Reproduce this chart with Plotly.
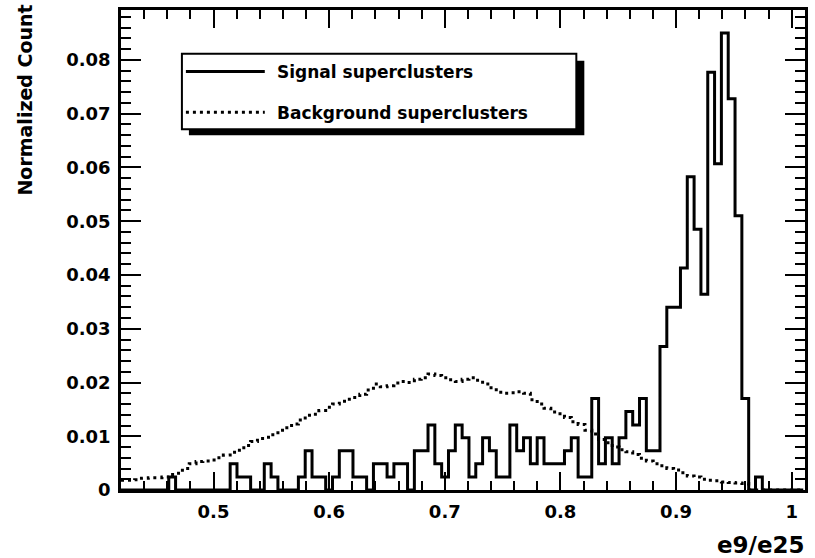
import numpy as np
import plotly.graph_objects as go

# Histogram binning (100 bins on e9/e25)
BIN_LO, BIN_HI, N_BINS = 0.42, 1.01, 100

# Normalized counts per bin, signal superclusters
signal = [
    0, 0, 0, 0, 0, 0, 0, 0.0024, 0, 0,
    0, 0, 0, 0, 0, 0, 0.0049, 0.0024, 0.0024, 0,
    0, 0.0049, 0.0024, 0, 0, 0, 0.0024, 0.0073, 0.0024, 0.0024,
    0, 0.0024, 0.0073, 0.0073, 0.0024, 0.0024, 0, 0.0049, 0.0049, 0.0024,
    0.0049, 0.0049, 0, 0.0073, 0.0073, 0.0121, 0.0049, 0.0024, 0.0073, 0.0121,
    0.0097, 0.0024, 0.0049, 0.0097, 0.0073, 0.0024, 0.0024, 0.0121, 0.0073, 0.0097,
    0.0049, 0.0097, 0.0049, 0.0049, 0.0049, 0.0073, 0.0097, 0.0024, 0.0024, 0.0170,
    0.0049, 0.0097, 0.0049, 0.0097, 0.0146, 0.0121, 0.0170, 0.0073, 0.0073, 0.0267,
    0.0340, 0.0340, 0.0413, 0.0583, 0.0485, 0.0364, 0.0777, 0.0607, 0.0850, 0.0728,
    0.0510, 0.0170, 0, 0.0024, 0, 0, 0, 0, 0, 0,
]

# Normalized counts per bin, background superclusters
background = [
    0.0018, 0.0018, 0.0019, 0.0022, 0.0023, 0.0023, 0.0024, 0.0029, 0.0031, 0.0040,
    0.0049, 0.0053, 0.0054, 0.0056, 0.0060, 0.0065, 0.0070, 0.0074, 0.0083, 0.0090,
    0.0096, 0.0098, 0.0103, 0.0111, 0.0116, 0.0123, 0.0130, 0.0139, 0.0141, 0.0148,
    0.0154, 0.0160, 0.0165, 0.0169, 0.0172, 0.0178, 0.0186, 0.0197, 0.0192, 0.0194,
    0.0199, 0.0202, 0.0200, 0.0206, 0.0209, 0.0216, 0.0213, 0.0209, 0.0205, 0.0202,
    0.0206, 0.0209, 0.0204, 0.0197, 0.0190, 0.0182, 0.0180, 0.0181, 0.0183, 0.0180,
    0.0168, 0.0160, 0.0152, 0.0145, 0.0142, 0.0135, 0.0127, 0.0122, 0.0111, 0.0104,
    0.0094, 0.0088, 0.0080, 0.0075, 0.0071, 0.0066, 0.0059, 0.0054, 0.0049, 0.0045,
    0.0040, 0.0037, 0.0032, 0.0026, 0.0024, 0.0020, 0.0018, 0.0017, 0.0015, 0.0014,
    0.0013, 0.0012, 0, 0, 0, 0, 0, 0, 0, 0,
]

SERIES_NAMES = ["Signal superclusters", "Background superclusters"]
X_TITLE = "e9/e25"
Y_TITLE = "Normalized Count"

edges = np.linspace(BIN_LO, BIN_HI, N_BINS + 1)


def step_xy(values):
    # left bin edges plus the final right edge, for an hv step outline
    return list(edges), list(values) + [values[-1]]


FONT = "DejaVu Sans"
fig = go.Figure()

sx, sy = step_xy(signal)
bx, by = step_xy(background)
fig.add_trace(go.Scatter(x=bx, y=by, mode="lines", line_shape="hv",
                         line=dict(color="black", width=3, dash="3px,4px"),
                         name=SERIES_NAMES[1], showlegend=False))
fig.add_trace(go.Scatter(x=sx, y=sy, mode="lines", line_shape="hv",
                         line=dict(color="black", width=3),
                         name=SERIES_NAMES[0], showlegend=False))

L, R, T, B = 121, 9, 7, 68
W, H = 815, 558
PW, PH = W - L - R, H - T - B


def px(x):
    return (x - L) / PW


def py(y):
    return (H - B - y) / PH


shapes = [
    # legend shadow and box
    dict(type="rect", xref="paper", yref="paper",
         x0=px(189), x1=px(585), y0=py(133), y1=py(58),
         fillcolor="black", line=dict(width=0), layer="above"),
    dict(type="rect", xref="paper", yref="paper",
         x0=px(182), x1=px(577), y0=py(127), y1=py(51),
         fillcolor="white", line=dict(color="black", width=2), layer="above"),
    # legend samples
    dict(type="line", xref="paper", yref="paper",
         x0=px(186), x1=px(265), y0=py(69), y1=py(69),
         line=dict(color="black", width=3), layer="above"),
    dict(type="line", xref="paper", yref="paper",
         x0=px(186), x1=px(265), y0=py(110), y1=py(110),
         line=dict(color="black", width=3, dash="3px,4px"), layer="above"),
]

annotations = [
    dict(text=SERIES_NAMES[0], xref="paper", yref="paper", x=px(275), y=py(69),
         xanchor="left", yanchor="middle", showarrow=False,
         font=dict(family=FONT, size=17, color="black", weight="bold")),
    dict(text=SERIES_NAMES[1], xref="paper", yref="paper", x=px(275), y=py(111),
         xanchor="left", yanchor="middle", showarrow=False,
         font=dict(family=FONT, size=17, color="black", weight="bold")),
    dict(text=Y_TITLE, xref="paper", yref="paper", x=px(25), y=py(98),
         xanchor="center", yanchor="middle", textangle=-90, showarrow=False,
         font=dict(family=FONT, size=19, color="black", weight="bold")),
    dict(text=X_TITLE, xref="paper", yref="paper", x=px(808), y=py(545),
         xanchor="right", yanchor="middle", showarrow=False,
         font=dict(family=FONT, size=23, color="black", weight="bold")),
]

axis_common = dict(
    showline=True, linecolor="black", linewidth=2.5, mirror="allticks",
    ticks="inside", tickcolor="black", tickwidth=2,
    showgrid=False, zeroline=False,
    tickfont=dict(family=FONT, size=18, color="black", weight="bold"),
)

fig.update_layout(
    width=W, height=H,
    margin=dict(l=L, r=R, t=T, b=B),
    paper_bgcolor="white", plot_bgcolor="white",
    shapes=shapes, annotations=annotations,
    xaxis=dict(range=[0.42, 1.0115], tick0=0, dtick=0.1, ticklen=18,
               ticklabelstandoff=4,
               minor=dict(dtick=0.02, tick0=0, ticklen=9, ticks="inside",
                          tickcolor="black", tickwidth=2),
               **axis_common),
    yaxis=dict(range=[0, 0.0893], tick0=0, dtick=0.01, ticklen=20,
               ticklabelstandoff=4,
               minor=dict(dtick=0.002, tick0=0, ticklen=10, ticks="inside",
                          tickcolor="black", tickwidth=2),
               **axis_common),
)

fig.write_html("out.html")
